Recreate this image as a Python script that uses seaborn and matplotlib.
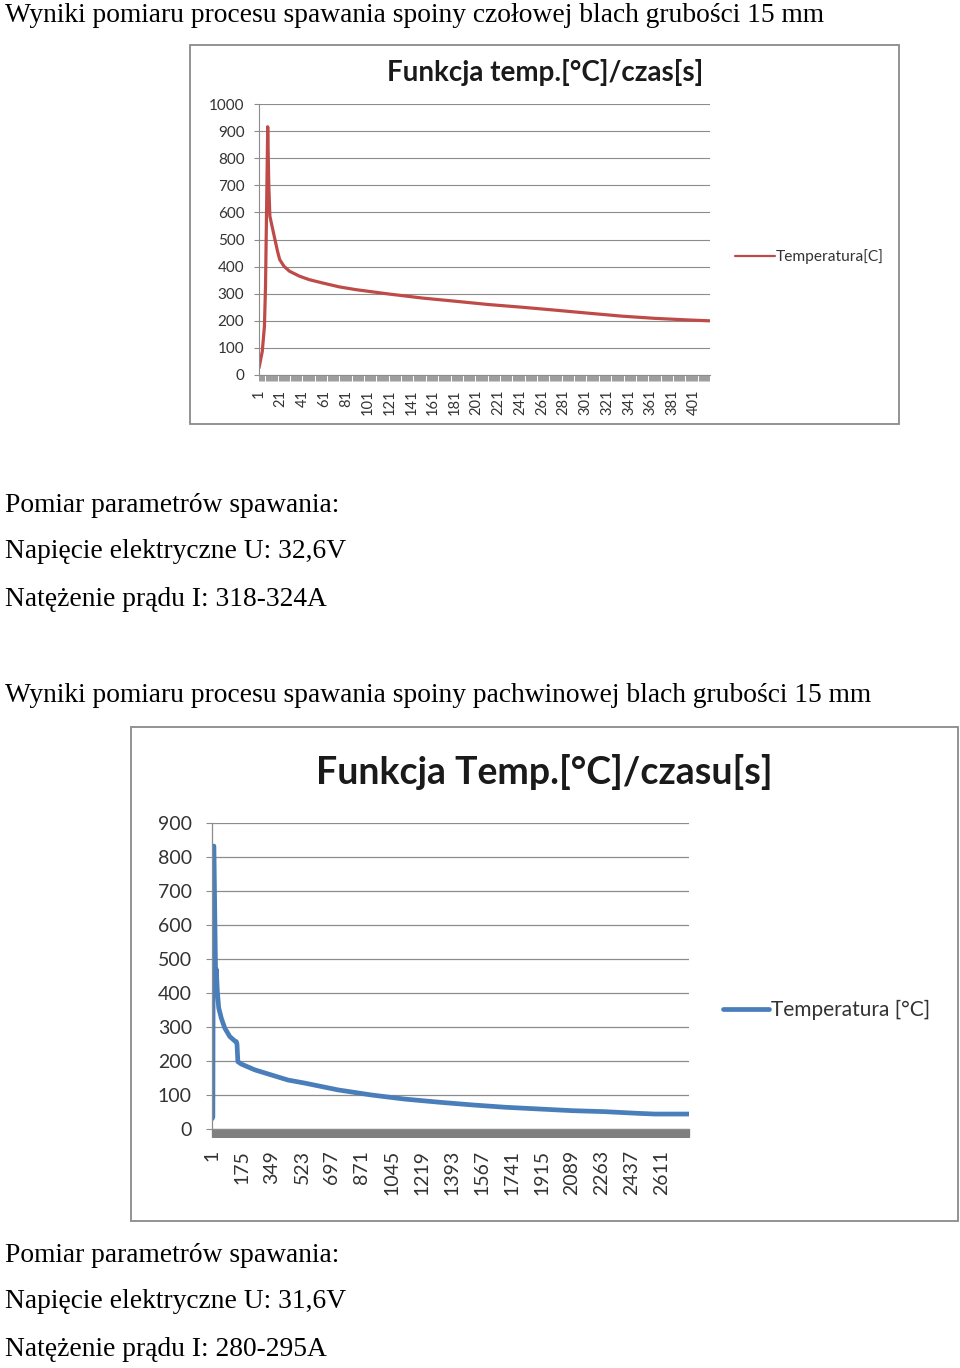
import numpy as np
import pandas as pd
import matplotlib
matplotlib.use("Agg")
import matplotlib.pyplot as plt
import seaborn as sns
from matplotlib.patches import Rectangle
from matplotlib.lines import Line2D

# ---------------- data ----------------
# Chart 1: butt weld (czołowa), time index [s] vs temperature [°C]
t1 = [1, 4, 6, 7, 9, 10, 11, 15, 18, 20, 24, 29, 38, 47, 59, 75, 90, 120, 151,
      182, 212, 243, 274, 304, 335, 365, 396, 415]
temp1 = [26, 87, 180, 330, 916, 700, 586, 512, 457, 426, 401, 383, 365, 352, 340,
         325, 315, 299, 284, 272, 260, 250, 239, 228, 217, 209, 203, 200]
n_cat1 = 415
xlabels1 = list(range(1, 402, 20))

# Chart 2: fillet weld (pachwinowa)
t2 = [1, 6, 9, 12, 18, 22, 26, 32, 40, 55, 75, 104, 133, 142, 146, 151, 171, 249,
      345, 442, 539, 732, 926, 1119, 1313, 1506, 1700, 1893, 2087, 2280, 2474,
      2571, 2768]
temp2 = [30, 35, 832, 832, 600, 450, 470, 405, 356, 326, 297, 272, 259, 257, 250,
         198, 191, 174, 159, 144, 135, 115, 100, 88, 79, 71, 64, 59, 54, 51, 46,
         44, 44]
n_cat2 = 2768
xlabels2 = list(range(1, 2612, 174))

title1 = "Funkcja temp.[°C]/czas[s]"
title2 = "Funkcja Temp.[°C]/czasu[s]"
legend1 = "Temperatura[C]"
legend2 = "Temperatura [°C]"

texts = [
    ("Wyniki pomiaru procesu spawania spoiny czołowej blach grubości 15 mm", 15),
    ("Pomiar parametrów spawania:", 505),
    ("Napięcie elektryczne U: 32,6V", 552),
    ("Natężenie prądu I: 318-324A", 600),
    ("Wyniki pomiaru procesu spawania spoiny pachwinowej blach grubości 15 mm", 695),
    ("Pomiar parametrów spawania:", 1255),
    ("Napięcie elektryczne U: 31,6V", 1302),
    ("Natężenie prądu I: 280-295A", 1349),
]

# ---------------- figure ----------------
sns.set_theme(style="white")
plt.rcParams["font.family"] = ["Lato", "DejaVu Sans"]

W, H = 960, 1368
fig = plt.figure(figsize=(W / 100, H / 100), dpi=100)
fig.patch.set_facecolor("white")


def fx(px):
    return px / W


def fy(py):
    return 1 - py / H


def box(x0, y0, x1, y1):
    fig.add_artist(Rectangle((fx(x0), fy(y1)), fx(x1) - fx(x0), fy(y0) - fy(y1),
                             transform=fig.transFigure, fill=False,
                             edgecolor="#8a8a8a", linewidth=1.3))


GRID = "#8c8c8c"

# page text
for s, y in texts:
    fig.text(fx(5), fy(y), s, ha="left", va="center", fontsize=19.8,
             family="Liberation Serif", color="black")

# ---------- chart 1 ----------
box(190, 45, 899, 424)
ax1 = fig.add_axes([fx(259), fy(375), fx(710) - fx(259), fy(104) - fy(375)])
df1 = pd.DataFrame({"t": t1, "temp": temp1})
sns.lineplot(data=df1, x="t", y="temp", ax=ax1, color="#BE4B48", linewidth=2.3,
             label=legend1, legend=False)
ax1.set_xlim(1, n_cat1 + 0.5)
ax1.set_ylim(0, 1000)
ax1.set_yticks(range(0, 1001, 100))
ax1.set_xticks(xlabels1)
ax1.set_xticklabels([str(v) for v in xlabels1], rotation=90, fontsize=10.5,
                    color="#333333")
ax1.set_xticks(np.arange(1, n_cat1 + 1), minor=True)
ax1.tick_params(axis="y", labelsize=11, labelcolor="#333333", length=3.5,
                width=0.8, color=GRID, pad=7, left=True)
ax1.tick_params(axis="x", which="both", length=4.5, width=0.6, color=GRID,
                pad=6, bottom=True)
ax1.grid(axis="y", color=GRID, linewidth=0.8)
ax1.set_axisbelow(True)
for side in ["top", "right"]:
    ax1.spines[side].set_visible(False)
for side in ["left", "bottom"]:
    ax1.spines[side].set_color(GRID)
    ax1.spines[side].set_linewidth(0.8)
ax1.set_xlabel("")
ax1.set_ylabel("")
fig.text(fx(545), fy(73), title1, ha="center", va="center", fontsize=20,
         fontweight="bold", color="#1a1a1a")
h1 = Line2D([], [], color="#BE4B48", linewidth=1.6)
fig.legend([h1], [legend1], loc="center left", bbox_to_anchor=(fx(735), fy(257)),
           frameon=False, fontsize=11.2, handlelength=2.6, handletextpad=0.05,
           labelcolor="#333333", borderaxespad=0, borderpad=0)

# ---------- chart 2 ----------
box(131, 727, 958, 1221)
ax2 = fig.add_axes([fx(212), fy(1129), fx(689) - fx(212), fy(823) - fy(1129)])
df2 = pd.DataFrame({"t": t2, "temp": temp2})
sns.lineplot(data=df2, x="t", y="temp", ax=ax2, color="#4A7EBB", linewidth=3.4,
             label=legend2, legend=False)
ax2.set_xlim(1, n_cat2)
ax2.set_ylim(0, 900)
ax2.set_yticks(range(0, 901, 100))
ax2.set_xticks(xlabels2)
ax2.set_xticklabels([str(v) for v in xlabels2], rotation=90, fontsize=14,
                    color="#333333")
ax2.set_xticks(np.arange(1, n_cat2 + 1), minor=True)
ax2.tick_params(axis="y", labelsize=14, labelcolor="#333333", length=4.5,
                width=0.8, color=GRID, pad=10, left=True)
ax2.tick_params(axis="x", which="both", length=6, width=0.8, color="#808080",
                pad=9, bottom=True)
ax2.grid(axis="y", color=GRID, linewidth=0.9)
ax2.set_axisbelow(True)
for side in ["top", "right"]:
    ax2.spines[side].set_visible(False)
for side in ["left", "bottom"]:
    ax2.spines[side].set_color(GRID)
    ax2.spines[side].set_linewidth(0.9)
ax2.set_xlabel("")
ax2.set_ylabel("")
fig.text(fx(544), fy(772), title2, ha="center", va="center", fontsize=27,
         fontweight="bold", color="#1a1a1a")
h2 = Line2D([], [], color="#4A7EBB", linewidth=3.4)
fig.legend([h2], [legend2], loc="center left", bbox_to_anchor=(fx(723), fy(1010)),
           frameon=False, fontsize=15, handlelength=2.2, handletextpad=0.1,
           labelcolor="#333333", borderaxespad=0, borderpad=0)

fig.savefig("out.png", dpi=100, facecolor="white")
